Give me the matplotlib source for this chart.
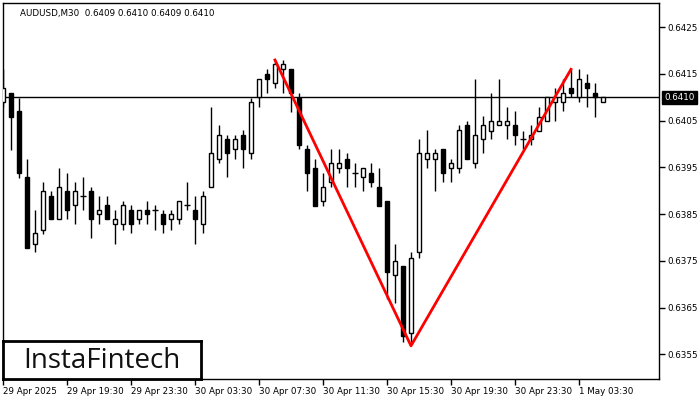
import matplotlib
matplotlib.use('agg')
import matplotlib.pyplot as plt
from matplotlib.patches import Rectangle

# AUDUSD M30 candles (oldest first)
opens = [0.64089, 0.64109, 0.64071, 0.63929, 0.63787, 0.63817, 0.63889, 0.63839,
         0.63899, 0.63869, 0.63889, 0.63899, 0.63850, 0.63869, 0.63828, 0.63828,
         0.63858, 0.63839, 0.63858, 0.63858, 0.63850, 0.63839, 0.63839, 0.63869,
         0.63858, 0.63828, 0.63909, 0.63969, 0.64010, 0.63989, 0.64019, 0.63980,
         0.64100, 0.64150, 0.64130, 0.64161, 0.64161, 0.64099, 0.63989, 0.63948,
         0.63879, 0.63919, 0.63948, 0.63969, 0.63939, 0.63929, 0.63939, 0.63909,
         0.63879, 0.63719, 0.63739, 0.63596, 0.63768, 0.63969, 0.63969, 0.63989,
         0.63948, 0.63948, 0.64040, 0.63959, 0.64010, 0.64029, 0.64040, 0.64040,
         0.64040, 0.64010, 0.64010, 0.64029, 0.64049, 0.64089, 0.64089, 0.64119,
         0.64100, 0.64130, 0.64109, 0.64089]
highs = [0.64161, 0.64109, 0.64099, 0.63969, 0.63859, 0.63919, 0.63899, 0.63949,
         0.63939, 0.63919, 0.63929, 0.63909, 0.63889, 0.63889, 0.63858, 0.63879,
         0.63869, 0.63858, 0.63879, 0.63869, 0.63858, 0.63858, 0.63879, 0.63919,
         0.63889, 0.63899, 0.64079, 0.64040, 0.64019, 0.64019, 0.64030, 0.64099,
         0.64139, 0.64161, 0.64180, 0.64180, 0.64161, 0.64109, 0.63999, 0.63969,
         0.63939, 0.63989, 0.63989, 0.63980, 0.63959, 0.63948, 0.63959, 0.63948,
         0.63879, 0.63787, 0.63739, 0.63768, 0.64010, 0.64030, 0.63989, 0.63989,
         0.63969, 0.64040, 0.64049, 0.64139, 0.64060, 0.64109, 0.64139, 0.64079,
         0.64070, 0.64029, 0.64040, 0.64079, 0.64100, 0.64120, 0.64139, 0.64160,
         0.64160, 0.64150, 0.64130, 0.64100]
lows = [0.64079, 0.63987, 0.63928, 0.63778, 0.63768, 0.63807, 0.63839, 0.63839,
        0.63839, 0.63828, 0.63858, 0.63798, 0.63828, 0.63839, 0.63787, 0.63817,
        0.63809, 0.63828, 0.63828, 0.63817, 0.63809, 0.63817, 0.63828, 0.63858,
        0.63787, 0.63809, 0.63909, 0.63959, 0.63929, 0.63969, 0.63948, 0.63969,
        0.64079, 0.64109, 0.64119, 0.64109, 0.64069, 0.63989, 0.63899, 0.63868,
        0.63868, 0.63909, 0.63939, 0.63909, 0.63909, 0.63899, 0.63909, 0.63868,
        0.63668, 0.63659, 0.63577, 0.63577, 0.63757, 0.63948, 0.63899, 0.63919,
        0.63919, 0.63939, 0.63969, 0.63948, 0.63980, 0.64010, 0.64040, 0.64010,
        0.63999, 0.63989, 0.63999, 0.64029, 0.64049, 0.64049, 0.64070, 0.64100,
        0.64089, 0.64079, 0.64059, 0.64089]
closes = [0.64119, 0.64058, 0.63939, 0.63778, 0.63809, 0.63899, 0.63839, 0.63909,
          0.63858, 0.63899, 0.63889, 0.63839, 0.63858, 0.63839, 0.63839, 0.63869,
          0.63828, 0.63858, 0.63850, 0.63858, 0.63828, 0.63850, 0.63879, 0.63869,
          0.63839, 0.63889, 0.63980, 0.64019, 0.63980, 0.64010, 0.63989, 0.64089,
          0.64139, 0.64139, 0.64171, 0.64171, 0.64109, 0.63999, 0.63939, 0.63868,
          0.63909, 0.63959, 0.63959, 0.63948, 0.63939, 0.63948, 0.63919, 0.63868,
          0.63727, 0.63749, 0.63588, 0.63757, 0.63980, 0.63980, 0.63980, 0.63939,
          0.63959, 0.64030, 0.63969, 0.64019, 0.64040, 0.64049, 0.64049, 0.64049,
          0.64019, 0.64010, 0.64019, 0.64059, 0.64100, 0.64100, 0.64109, 0.64109,
          0.64139, 0.64119, 0.64100, 0.64100]

# double top pattern: candle index and price of each vertex
pattern_idx = [34, 51, 71]
pattern_price = [0.64180, 0.63568, 0.64160]

current_price = 0.6410
price_ticks = [0.6355, 0.6365, 0.6375, 0.6385, 0.6395, 0.6405, 0.6415, 0.6425]
time_tick_idx = [0, 8, 16, 24, 32, 40, 48, 56, 64, 72]
time_labels = ['29 Apr 2025', '29 Apr 19:30', '29 Apr 23:30', '30 Apr 03:30',
               '30 Apr 07:30', '30 Apr 11:30', '30 Apr 15:30', '30 Apr 19:30',
               '30 Apr 23:30', '1 May 03:30']
header = 'AUDUSD,M30  0.6409 0.6410 0.6409 0.6410'

fig = plt.figure(figsize=(7, 4), dpi=100)
ax = fig.add_axes([0.0036, 0.0525, 0.9378, 0.94])

x = list(range(len(opens)))
ax.vlines(x, lows, highs, color='black', linewidth=1, zorder=2)
for i in x:
    o, c = opens[i], closes[i]
    if abs(c - o) < 1e-7:
        ax.hlines(o, i - 0.32, i + 0.32, color='black', linewidth=1, zorder=3)
        continue
    face = 'white' if c > o else 'black'
    ax.add_patch(Rectangle((i - 0.3, min(o, c)), 0.6, abs(c - o),
                           facecolor=face, edgecolor='black', linewidth=1, zorder=3))

ax.axhline(current_price, color='black', linewidth=1, zorder=1)
ax.plot(pattern_idx, pattern_price, color='red', linewidth=2, zorder=4)

ax.set_xlim(-0.06, 82)
ax.set_ylim(0.63497, 0.64302)

ax.yaxis.tick_right()
ax.set_yticks(price_ticks)
ax.set_yticklabels([f'{p:.4f}' for p in price_ticks])
ax.set_xticks(time_tick_idx)
ax.set_xticklabels(time_labels, ha='left')
ax.tick_params(axis='both', direction='out', length=4, width=1,
               labelsize=6.3, colors='black', pad=2)
for spine in ax.spines.values():
    spine.set_linewidth(1)

# current price marker on the price scale
ax.annotate(f'{current_price:.4f}', xy=(1.0, current_price),
            xycoords=ax.get_yaxis_transform(), xytext=(4, 0),
            textcoords='offset points', fontsize=6.3, color='white',
            va='center', ha='left',
            bbox=dict(boxstyle='square,pad=0.25', fc='black', ec='black'),
            annotation_clip=False)

ax.text(0.027, 0.985, header, transform=ax.transAxes, fontsize=6.3,
        va='top', ha='left')

# logo box in the lower left corner
logo = fig.add_axes([3 / 700, 21 / 400, 198 / 700, 38 / 400])
logo.set_xticks([])
logo.set_yticks([])
for spine in logo.spines.values():
    spine.set_linewidth(2)
logo.text(0.5, 0.47, 'InstaFintech', fontsize=20, family='Open Sans',
          fontweight='medium', color='#111111', ha='center', va='center')

fig.savefig('out.png', dpi=100)
